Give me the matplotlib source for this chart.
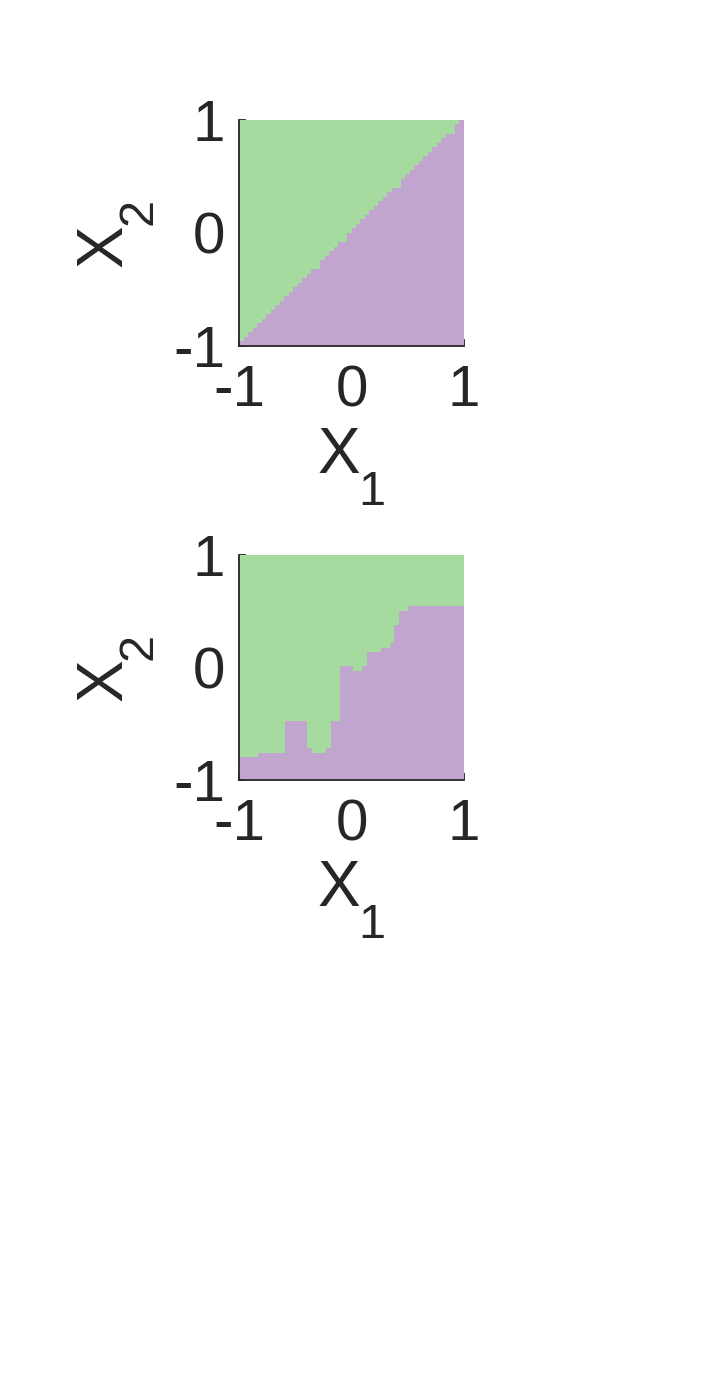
import numpy as np
import matplotlib
matplotlib.use("Agg")
import matplotlib.pyplot as plt
from matplotlib.colors import ListedColormap

plt.rcParams['font.family'] = ['Liberation Sans', 'DejaVu Sans']

# ---- data ----
tick_values = [-1, 0, 1]
tick_labels = ['-1', '0', '1']
class_colors = ['#c2a5cf', '#a6dba0']  # purple (class 0, below), green (class 1, above)
x_label_main, x_label_sub = 'X', '1'
y_label_main, y_label_sub = 'X', '2'

# Top panel: linear boundary x2 = x1 (defined by two points)
top_boundary_x = [-1.0, 1.0]
top_boundary_y = [-1.0, 1.0]
top_grid_n = 50

# Bottom panel: step boundary (right edges of segments and boundary heights)
bottom_seg_right = [-0.83, -0.59, -0.396, -0.351, -0.227, -0.188, -0.108, 0.016,
                    0.096, 0.138, 0.262, 0.345, 0.384, 0.425, 0.508, 1.0]
bottom_seg_height = [-0.80, -0.76, -0.476, -0.72, -0.76, -0.72, -0.476, 0.01,
                     -0.031, 0.01, 0.132, 0.173, 0.215, 0.378, 0.502, 0.541]
bottom_grid_n = 450

text_color = '#262626'
cmap = ListedColormap(class_colors)

fig = plt.figure(figsize=(7.03, 13.95), dpi=100)
ax_top = fig.add_axes([0.340, 0.752, 0.320, 0.162])
ax_bot = fig.add_axes([0.340, 0.4409, 0.320, 0.1613])


def top_class(xc, yc):
    b = np.interp(xc, top_boundary_x, top_boundary_y)
    return (yc > b).astype(float)


def bottom_class(xc, yc):
    idx = np.searchsorted(np.array(bottom_seg_right), xc)
    idx = np.clip(idx, 0, len(bottom_seg_height) - 1)
    b = np.array(bottom_seg_height)[idx]
    return (yc > b).astype(float)


for ax, fn, n in [(ax_top, top_class, top_grid_n), (ax_bot, bottom_class, bottom_grid_n)]:
    edges = np.linspace(-1, 1, n + 1)
    centers = 0.5 * (edges[:-1] + edges[1:])
    XC, YC = np.meshgrid(centers, centers)
    Z = fn(XC, YC)
    ax.pcolormesh(edges, edges, Z, cmap=cmap, vmin=0, vmax=1, shading='flat',
                  rasterized=True, zorder=1)
    ax.set_xlim(-1, 1)
    ax.set_ylim(-1, 1)
    ax.set_axisbelow(True)
    ax.set_xticks(tick_values)
    ax.set_xticklabels(tick_labels)
    ax.set_yticks(tick_values)
    ax.set_yticklabels(tick_labels)
    ax.tick_params(direction='in', length=5, width=1.3, colors=text_color,
                   labelsize=42)
    ax.tick_params(axis='x', pad=13)
    ax.tick_params(axis='y', pad=10)
    for s in ['top', 'right']:
        ax.spines[s].set_visible(False)
    for s in ['left', 'bottom']:
        ax.spines[s].set_color(text_color)
        ax.spines[s].set_linewidth(1.3)
    # x label: X with subscript 1
    ax.text(0.347, -0.562, x_label_main, transform=ax.transAxes, fontsize=46,
            color=text_color, ha='left', va='baseline', clip_on=False)
    ax.text(0.53, -0.704, x_label_sub, transform=ax.transAxes, fontsize=35,
            color=text_color, ha='left', va='baseline', clip_on=False)
    # y label: X with subscript 2, rotated
    ax.text(-0.520, 0.350, y_label_main, transform=ax.transAxes, fontsize=46,
            color=text_color, ha='left', va='baseline', rotation=90,
            rotation_mode='anchor', clip_on=False)
    ax.text(-0.387, 0.535, y_label_sub, transform=ax.transAxes, fontsize=35,
            color=text_color, ha='left', va='baseline', rotation=90,
            rotation_mode='anchor', clip_on=False)

fig.savefig('out.png', dpi=100, facecolor='white')
